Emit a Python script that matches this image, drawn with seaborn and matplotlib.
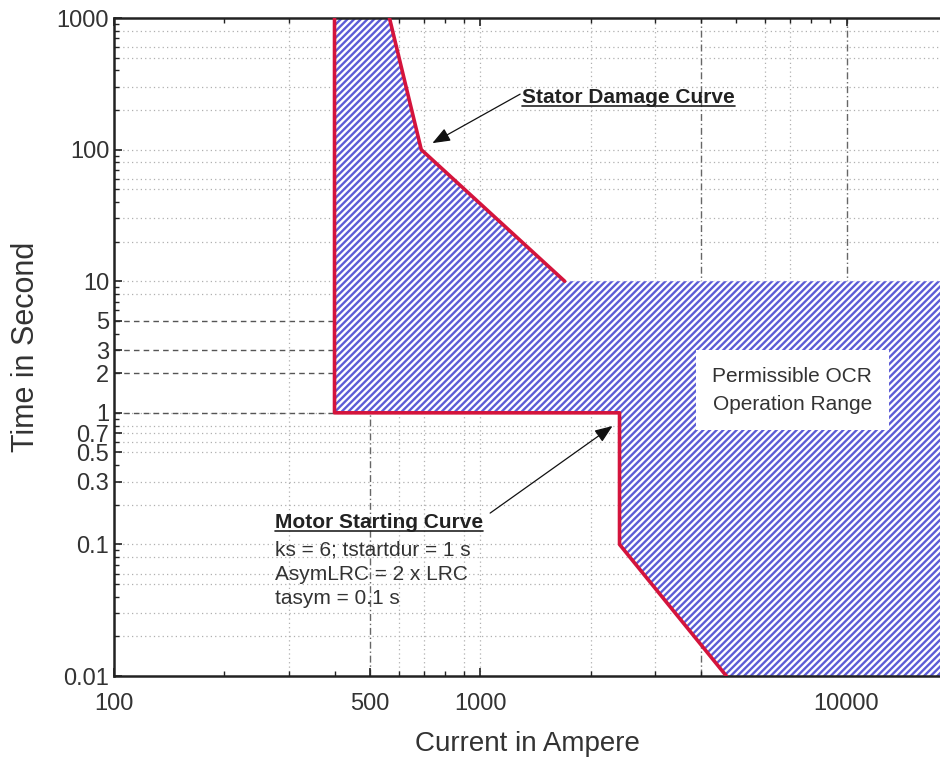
import matplotlib
matplotlib.use("Agg")
import matplotlib.pyplot as plt
import pandas as pd
import seaborn as sns
from matplotlib.lines import Line2D

# Motor starting curve (current in A, time in s): full-load limit, locked-rotor plateau, asymmetric inrush
start_current = [400, 400, 2400, 2400, 4700]
start_time = [1000, 1, 1, 0.1, 0.01]

# Stator damage (thermal withstand) curve
damage_current = [565, 690, 1700]
damage_time = [1000, 100, 10]

# Upper time bound of the permissible OCR region and right edge of the current axis
ocr_max_time = 10
current_max = 18000

x_ticks = [100, 500, 1000, 10000]
x_tick_labels = ["100", "500", "1000", "10000"]
y_ticks = [0.01, 0.1, 0.3, 0.5, 0.7, 1, 2, 3, 5, 10, 100, 1000]
y_tick_labels = ["0.01", "0.1", "0.3", "0.5", "0.7", "1", "2", "3", "5", "10", "100", "1000"]

sns.set_theme(style="white")
plt.rcParams["font.family"] = ["Liberation Sans", "DejaVu Sans"]
plt.rcParams["hatch.linewidth"] = 1.7
plt.rcParams["hatch.color"] = "#5c5cd6"

fig = plt.figure(figsize=(9.4, 7.6), dpi=100)
ax = fig.add_axes([0.1213, 0.1105, 0.8787, 0.8658])
ax.set_xscale("log")
ax.set_yscale("log")
ax.set_xlim(100, current_max)
ax.set_ylim(0.01, 1000)

# background reference grid
dot_kw = dict(color="#b0b0b0", lw=0.9, ls=(0, (1, 2.5)), zorder=0)
dash_kw = dict(color="#555555", lw=1.0, ls=(0, (4, 3)), zorder=0)
dashdot_kw = dict(color="#666666", lw=1.0, ls=(0, (5, 2, 1, 2)), zorder=0)
for dec in [0.01, 0.1, 10, 100]:
    for m in [2, 3, 5, 6, 8]:
        ax.axhline(dec * m, **dot_kw)
for v in [0.1, 1, 10, 100]:
    ax.axhline(v, **dot_kw)
ax.axhline(0.7, **dot_kw)
ax.axhline(8, **dot_kw)
for v in [5, 3, 2, 1]:
    ax.plot([100, start_current[0]], [v, v], **dash_kw)
for v in [300, 600, 700, 900, 1000, 2000, 3000, 6000, 7000]:
    ax.axvline(v, **dot_kw)
for v in [500, 4000, 10000]:
    ax.axvline(v, **dashdot_kw)

# permissible OCR operating region
poly_x = start_current + [current_max, current_max] + damage_current[::-1]
poly_y = start_time + [start_time[-1], ocr_max_time] + damage_time[::-1]
ax.fill(poly_x, poly_y, facecolor="white", edgecolor="#5c5cd6", hatch="/////",
        linewidth=0, zorder=1)

# boundary curves
red = "#d4143c"
start_df = pd.DataFrame({"current": start_current, "time": start_time})
damage_df = pd.DataFrame({"current": damage_current, "time": damage_time})
sns.lineplot(data=start_df, x="current", y="time", sort=False, estimator=None,
             color=red, lw=2.6, ax=ax, zorder=3)
sns.lineplot(data=damage_df, x="current", y="time", sort=False, estimator=None,
             color=red, lw=2.6, ax=ax, zorder=3)

ax.set_xticks(x_ticks)
ax.set_xticklabels(x_tick_labels)
ax.set_yticks(y_ticks)
ax.set_yticklabels(y_tick_labels)
ax.tick_params(which="both", direction="in", top=True, right=False, left=True, bottom=True,
               colors="#222222", labelcolor="#333333")
ax.tick_params(which="major", length=6, width=1.2, labelsize=17)
ax.tick_params(axis="x", which="major", pad=12)
ax.tick_params(which="minor", length=3.5, width=1.0)
for side in ["left", "bottom", "top"]:
    ax.spines[side].set_color("#222222")
    ax.spines[side].set_linewidth(1.8)
ax.spines["right"].set_visible(False)

ax.set_xlabel("Current in Ampere", fontsize=20, color="#333333", labelpad=12)
ax.set_ylabel("Time in Second", fontsize=22, color="#333333", labelpad=11)

# annotations
arrow = dict(arrowstyle="-|>,head_length=0.9,head_width=0.35", color="#111111", lw=0.9,
             shrinkA=0, shrinkB=0)
t_stator = ax.text(1303, 251, "Stator Damage Curve", fontsize=15, fontweight="bold",
                   color="#222222", ha="left", va="center", zorder=5)
ax.annotate("", xy=(740, 112), xytext=(1285, 264), arrowprops=arrow, zorder=5)

t_motor = ax.text(275, 0.146, "Motor Starting Curve", fontsize=15, fontweight="bold",
                  color="#222222", ha="left", va="center", zorder=5)
ax.text(275, 0.107, "ks = 6; tstartdur = 1 s\nAsymLRC = 2 x LRC\ntasym = 0.1 s",
        fontsize=15, color="#333333", ha="left", va="top", linespacing=1.35, zorder=5)
ax.annotate("", xy=(2297, 0.794), xytext=(1064, 0.173), arrowprops=arrow, zorder=5)

ax.text(7115, 1.49, "Permissible OCR\nOperation Range", fontsize=15, color="#333333",
        ha="center", va="center", linespacing=1.6, zorder=5,
        bbox=dict(boxstyle="square,pad=0.8", facecolor="white", edgecolor="none"))

# underline the bold captions
fig.canvas.draw()
renderer = fig.canvas.get_renderer()
inv = fig.transFigure.inverted()
for t in [t_stator, t_motor]:
    bb = t.get_window_extent(renderer)
    (x0, y0), (x1, _) = inv.transform([(bb.x0, bb.y0 + 1), (bb.x1, bb.y0 + 1)])
    fig.add_artist(Line2D([x0, x1], [y0, y0], color="#222222", lw=1.2, zorder=6))

fig.savefig("out.png", dpi=100)
